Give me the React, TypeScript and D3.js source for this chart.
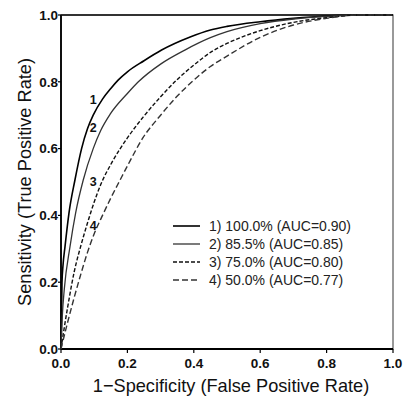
import React from "react";
import * as d3 from "d3";

// ROC curves: [1 - specificity, sensitivity]
const roc1: [number, number][] = [
  [0, 0], [0.003, 0.2], [0.006, 0.25], [0.012, 0.306], [0.024, 0.407], [0.042, 0.506],
  [0.062, 0.6], [0.08, 0.66], [0.097, 0.7], [0.125, 0.748], [0.15, 0.78], [0.172, 0.805],
  [0.2, 0.83], [0.25, 0.863], [0.303, 0.895], [0.389, 0.934], [0.45, 0.955], [0.5, 0.966],
  [0.6, 0.98], [0.7, 0.99], [0.8, 0.997], [0.9, 1], [1, 1],
];
const roc2: [number, number][] = [
  [0, 0], [0.004, 0.1], [0.01, 0.18], [0.027, 0.306], [0.044, 0.407], [0.067, 0.506],
  [0.097, 0.6], [0.12, 0.655], [0.148, 0.703], [0.2, 0.765], [0.233, 0.8], [0.3, 0.853],
  [0.373, 0.895], [0.45, 0.932], [0.5, 0.95], [0.6, 0.974], [0.7, 0.988], [0.8, 0.996],
  [0.9, 1], [1, 1],
];
const roc3: [number, number][] = [
  [0, 0], [0.01, 0.065], [0.02, 0.125], [0.04, 0.232], [0.06, 0.31], [0.08, 0.378],
  [0.1, 0.44], [0.12, 0.493], [0.153, 0.558], [0.2, 0.632], [0.248, 0.695], [0.3, 0.755],
  [0.348, 0.805], [0.4, 0.85], [0.458, 0.893], [0.5, 0.915], [0.6, 0.953], [0.7, 0.978],
  [0.8, 0.992], [0.9, 1], [1, 1],
];
const roc4: [number, number][] = [
  [0, 0], [0.02, 0.08], [0.04, 0.155], [0.06, 0.225], [0.08, 0.29], [0.1, 0.345],
  [0.125, 0.4], [0.15, 0.452], [0.178, 0.506], [0.2, 0.548], [0.248, 0.634], [0.3, 0.7],
  [0.348, 0.755], [0.4, 0.805], [0.449, 0.845], [0.5, 0.877], [0.6, 0.933], [0.7, 0.97],
  [0.8, 0.99], [0.9, 1], [1, 1],
];

const legendLabels = [
  "1) 100.0% (AUC=0.90)",
  "2) 85.5% (AUC=0.85)",
  "3) 75.0% (AUC=0.80)",
  "4) 50.0% (AUC=0.77)",
];
const curveNumbers = ["1", "2", "3", "4"];
const curveNumberFpr = 0.097;
const curveNumberTpr = [0.747, 0.662, 0.501, 0.371];

const tickValues = [0, 0.2, 0.4, 0.6, 0.8, 1.0];

const W = 406;
const H = 403;
const margin = { top: 15, right: 13, bottom: 54, left: 61 };
const font = "'Liberation Sans', Arial, Helvetica, sans-serif";

const styles = [
  { stroke: "#000", width: 1.6, dash: "" },
  { stroke: "#333", width: 1.3, dash: "" },
  { stroke: "#111", width: 1.4, dash: "4,2" },
  { stroke: "#333", width: 1.4, dash: "6,3" },
];

export default function App() {
  const x = d3.scaleLinear().domain([0, 1]).range([margin.left, W - margin.right]);
  const y = d3.scaleLinear().domain([0, 1]).range([H - margin.bottom, margin.top]);

  const line = d3
    .line<[number, number]>()
    .x((d) => x(d[0]))
    .y((d) => y(d[1]))
    .curve(d3.curveMonotoneX);

  const series = [roc1, roc2, roc3, roc4];
  const x0 = x(0), x1 = x(1), y0 = y(0), y1 = y(1);

  return (
    <svg
      width={W}
      height={H}
      style={{ position: "absolute", left: 0, top: 0, background: "#fff" }}
      fontFamily={font}
    >
      {/* frame */}
      <rect x={x0} y={y1} width={x1 - x0} height={y0 - y1} fill="none" stroke="#555" strokeWidth={1.2} />
      <line x1={x0} x2={x0} y1={y1} y2={y0} stroke="#000" strokeWidth={1.8} />
      <line x1={x0} x2={x1} y1={y0} y2={y0} stroke="#000" strokeWidth={1.8} />
      <line x1={x0} x2={x1} y1={y1} y2={y1} stroke="#111" strokeWidth={1.6} />

      {/* y axis ticks */}
      {tickValues.map((t) => (
        <g key={"y" + t}>
          <line x1={x0 - 3} x2={x0} y1={y(t)} y2={y(t)} stroke="#000" strokeWidth={1.2} />
          <text x={x0 - 3} y={y(t)} dy="0.36em" textAnchor="end" fontSize={13.5} fontWeight="bold" fill="#111">
            {t.toFixed(1)}
          </text>
        </g>
      ))}
      {/* x axis ticks */}
      {tickValues.map((t) => (
        <g key={"x" + t}>
          <line x1={x(t)} x2={x(t)} y1={y0} y2={y0 + 4} stroke="#000" strokeWidth={1.2} />
          <text x={x(t)} y={y0 + 19} textAnchor="middle" fontSize={13.5} fontWeight="bold" fill="#111">
            {t.toFixed(1)}
          </text>
        </g>
      ))}

      {/* axis titles */}
      <text x={(x0 + x1) / 2 + 4} y={y0 + 43} textAnchor="middle" fontSize={18.2} fill="#111">
        1−Specificity (False Positive Rate)
      </text>
      <text
        transform={`translate(31,${(y0 + y1) / 2}) rotate(-90)`}
        textAnchor="middle"
        fontSize={18.2}
        fill="#111"
      >
        Sensitivity (True Positive Rate)
      </text>

      {/* curves */}
      {series.map((s, i) => (
        <path
          key={"c" + i}
          d={line(s) ?? ""}
          fill="none"
          stroke={styles[i].stroke}
          strokeWidth={styles[i].width}
          strokeDasharray={styles[i].dash || undefined}
        />
      ))}

      {/* curve numbers */}
      {curveNumbers.map((n, i) => (
        <text
          key={"n" + n}
          x={x(curveNumberFpr)}
          y={y(curveNumberTpr[i])}
          dy="0.36em"
          textAnchor="middle"
          fontSize={12.5}
          fontWeight="bold"
          fill="#111"
        >
          {n}
        </text>
      ))}

      {/* legend */}
      {legendLabels.map((lab, i) => {
        const ly = 226 + i * 18;
        return (
          <g key={"l" + i}>
            <line
              x1={173}
              x2={200}
              y1={ly}
              y2={ly}
              stroke={styles[i].stroke}
              strokeWidth={styles[i].width}
              strokeDasharray={styles[i].dash || undefined}
            />
            <text x={209} y={ly} dy="0.36em" fontSize={14} fill="#222">
              {lab}
            </text>
          </g>
        );
      })}
    </svg>
  );
}
